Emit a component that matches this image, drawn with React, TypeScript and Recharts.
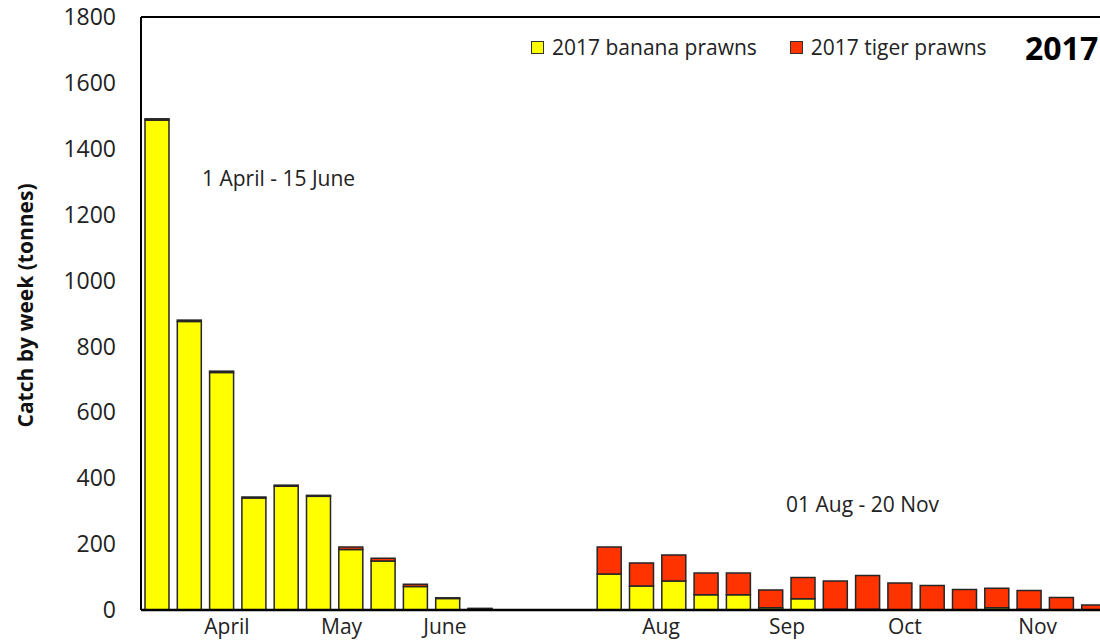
import React from 'react';
import { BarChart, Bar, XAxis, YAxis, Legend, ReferenceLine } from 'recharts';

// weekly catch, 1 April - 15 June, closed season gap, then 01 Aug - 20 Nov
const weeks = [
  '01 Apr', '08 Apr', '15 Apr', '22 Apr', '29 Apr', '06 May', '13 May', '20 May', '27 May', '03 Jun', '10 Jun',
  'closed 1', 'closed 2', 'closed 3',
  '01 Aug', '08 Aug', '15 Aug', '22 Aug', '29 Aug', '05 Sep', '12 Sep', '19 Sep', '26 Sep',
  '03 Oct', '10 Oct', '17 Oct', '24 Oct', '31 Oct', '07 Nov', '14 Nov',
];
const banana = [1487, 876, 721, 340, 376, 345, 184, 149, 71, 35, 3, 0, 0, 0, 109, 73, 88, 46, 46, 7, 34, 2, 2, 1, 1, 0, 7, 2, 1, 0];
const tiger = [4, 4, 4, 3, 3, 3, 7, 8, 7, 2, 2, 0, 0, 0, 82, 70, 79, 66, 66, 54, 65, 86, 103, 81, 73, 62, 59, 57, 37, 15];

// month labels sit between weeks, as in the original
const monthNames = ['April', 'May', 'June', 'Aug', 'Sep', 'Oct', 'Nov'];
const monthTicks = [2.66, 6.21, 9.41, 16.1, 20.0, 23.65, 27.76];

const yTicks = [0, 200, 400, 600, 800, 1000, 1200, 1400, 1600, 1800];

const FONT = '"Open Sans", sans-serif';
const YELLOW = '#FFFF00';
const RED = '#FF3300';

const data = weeks.map((w, i) => ({ week: w, x: i + 0.5, banana: banana[i], tiger: tiger[i] }));

const LegendBox = () => (
  <div style={{ display: 'flex', alignItems: 'center', fontFamily: FONT, fontSize: 21, lineHeight: '21px', color: '#222', whiteSpace: 'nowrap' }}>
    <span style={{ width: 11, height: 11, background: YELLOW, border: '1px solid #333', marginRight: 8 }} />
    <span>2017 banana prawns</span>
    <span style={{ width: 11, height: 11, background: RED, border: '1px solid #333', marginLeft: 33, marginRight: 8 }} />
    <span>2017 tiger prawns</span>
  </div>
);

export default function App() {
  return (
    <div style={{ position: 'absolute', left: 0, top: 0, width: 1100, height: 641, overflow: 'hidden', background: '#fff' }}>
      <BarChart width={1120} height={641} data={data} margin={{ top: 17, right: 10, bottom: 0, left: 0 }}>
        <XAxis
          dataKey="x"
          type="number"
          domain={[0, 30]}
          ticks={monthTicks}
          tickFormatter={(v: number) => monthNames[monthTicks.indexOf(v)]}
          interval={0}
          height={31}
          tickSize={0}
          tickMargin={9}
          axisLine={{ stroke: '#000', strokeWidth: 2.5 }}
          tick={{ fill: '#222', fontSize: 21, fontFamily: FONT }}
        />
        <YAxis
          domain={[0, 1800]}
          ticks={yTicks}
          width={141}
          tickSize={0}
          tickMargin={25}
          axisLine={{ stroke: '#000', strokeWidth: 2 }}
          tick={{ fill: '#222', fontSize: 23, fontFamily: FONT }}
          label={{
            value: 'Catch by week (tonnes)',
            angle: -90,
            position: 'insideLeft',
            offset: 26,
            dy: -8,
            style: { textAnchor: 'middle', fontFamily: FONT, fontSize: 21, fontWeight: 700, fill: '#111' },
          }}
        />
        <ReferenceLine y={1800} stroke="#000" strokeWidth={2} />
        <Legend
          layout="horizontal"
          verticalAlign="middle"
          align="center"
          wrapperStyle={{ top: 37, left: 531, width: 'auto' }}
          content={() => <LegendBox />}
        />
        <Bar dataKey="banana" stackId="a" barSize={24} fill={YELLOW} stroke="#262626" strokeWidth={1.5} isAnimationActive={false} />
        <Bar dataKey="tiger" stackId="a" barSize={24} fill={RED} stroke="#262626" strokeWidth={1.5} isAnimationActive={false} />
      </BarChart>
      <svg width={1100} height={641} style={{ position: 'absolute', left: 0, top: 0, pointerEvents: 'none' }}>
        <text x={202} y={186} fontFamily={FONT} fontSize={21} fill="#222">1 April - 15 June</text>
        <text x={786} y={512} fontFamily={FONT} fontSize={21} fill="#222">01 Aug - 20 Nov</text>
        <text x={1025} y={60} fontFamily={FONT} fontSize={32} fontWeight={700} fill="#000">2017</text>
      </svg>
    </div>
  );
}
